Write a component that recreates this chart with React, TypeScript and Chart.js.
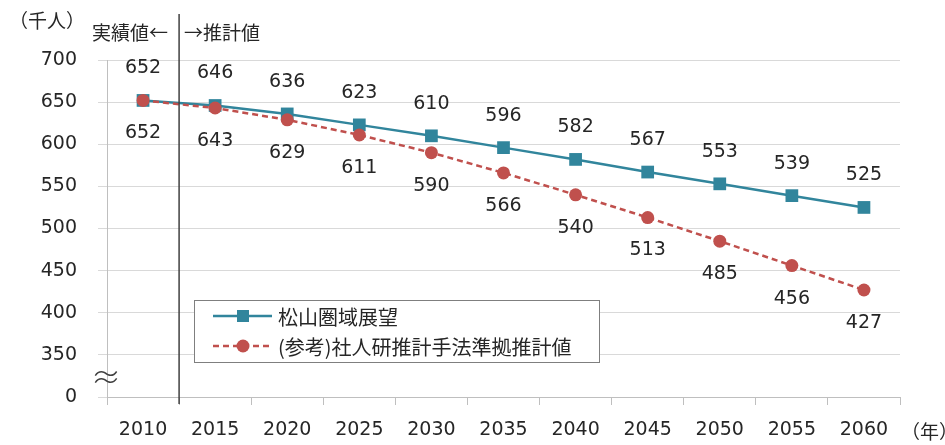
import React, { useEffect, useRef } from "react";
import { Chart, registerables } from "chart.js";

Chart.register(...registerables);

const years = ["2010", "2015", "2020", "2025", "2030", "2035", "2040", "2045", "2050", "2055", "2060"];
const outlookValues = [652, 646, 636, 623, 610, 596, 582, 567, 553, 539, 525];
const ipssValues = [652, 643, 629, 611, 590, 566, 540, 513, 485, 456, 427];
const seriesNames = ["松山圏域展望", "(参考)社人研推計手法準拠推計値"];
const yUnit = "（千人）";
const xUnit = "（年）";
const actualLabel = "実績値←";
const projLabel = "→推計値";
const breakMark = "≈";

const BLUE = "#31859C";
const RED = "#C0504D";
const NUM_FONT = "19px 'DejaVu Sans'";
const JP_FONT = "19px 'Noto Sans CJK JP'";
const LEG_FONT = "20px 'Noto Sans CJK JP'";

const overlayPlugin = {
  id: "overlay",
  afterDatasetsDraw(chart: any) {
    const ctx = chart.ctx;
    const xs = chart.scales.x;
    const ys = chart.scales.y;
    // divider line
    const xd = (xs.getPixelForValue(0) + xs.getPixelForValue(1)) / 2;
    ctx.save();
    ctx.strokeStyle = "#404040";
    ctx.lineWidth = 1.5;
    ctx.beginPath();
    ctx.moveTo(xd, 14);
    ctx.lineTo(xd, ys.bottom + 7);
    ctx.stroke();

    // data labels
    ctx.font = NUM_FONT;
    ctx.fillStyle = "#262626";
    ctx.textAlign = "center";
    ctx.textBaseline = "middle";
    chart.data.datasets.forEach((ds: any, di: number) => {
      const meta = chart.getDatasetMeta(di);
      meta.data.forEach((pt: any, i: number) => {
        const above = ds.labelPos === "above";
        ctx.fillText(String(ds.data[i]), pt.x, pt.y + (above ? -32 : 33));
      });
    });

    // texts
    ctx.font = JP_FONT;
    ctx.fillStyle = "#262626";
    ctx.textAlign = "left";
    ctx.fillText(yUnit, 9, 21);
    ctx.fillText(actualLabel, 92, 33);
    ctx.fillText(projLabel, 184, 33);
    ctx.fillText(xUnit, 901, 432);

    ctx.font = "300 30px 'Noto Sans CJK JP'";
    ctx.fillStyle = "#404040";
    ctx.textAlign = "center";
    ctx.fillText(breakMark, xs.left - 1, (ys.getPixelForValue(350) + ys.bottom) / 2 + 1);

    // legend
    const lx = 194, ly = 300, lw = 405, lh = 62;
    ctx.fillStyle = "#ffffff";
    ctx.fillRect(lx, ly, lw, lh);
    ctx.strokeStyle = "#7f7f7f";
    ctx.lineWidth = 1;
    ctx.strokeRect(lx + 0.5, ly + 0.5, lw, lh);
    const rows = [
      { y: 316, color: BLUE, dash: [] as number[], marker: "rect", name: seriesNames[0] },
      { y: 346, color: RED, dash: [6, 4], marker: "circle", name: seriesNames[1] },
    ];
    rows.forEach((r) => {
      ctx.strokeStyle = r.color;
      ctx.lineWidth = 2.5;
      ctx.setLineDash(r.dash);
      ctx.beginPath();
      ctx.moveTo(213, r.y);
      ctx.lineTo(272, r.y);
      ctx.stroke();
      ctx.setLineDash([]);
      ctx.fillStyle = r.color;
      if (r.marker === "rect") {
        ctx.fillRect(243 - 6, r.y - 6, 12, 12);
      } else {
        ctx.beginPath();
        ctx.arc(243, r.y, 6.5, 0, Math.PI * 2);
        ctx.fill();
      }
      ctx.fillStyle = "#262626";
      ctx.font = LEG_FONT;
      ctx.textAlign = "left";
      ctx.textBaseline = "middle";
      ctx.fillText(r.name, 278, r.y + 1);
    });
    ctx.restore();
  },
};

export default function App() {
  const ref = useRef<HTMLCanvasElement>(null);
  useEffect(() => {
    document.body.style.margin = "0";
    const chart = new Chart(ref.current!, {
      type: "line",
      data: {
        labels: years,
        datasets: [
          {
            label: seriesNames[0],
            data: outlookValues,
            borderColor: BLUE,
            backgroundColor: BLUE,
            borderWidth: 2.5,
            pointStyle: "rect",
            pointRadius: 9,
            pointBorderWidth: 0,
            order: 1,
            labelPos: "above",
          } as any,
          {
            label: seriesNames[1],
            data: ipssValues,
            borderColor: RED,
            backgroundColor: RED,
            borderWidth: 2.5,
            borderDash: [6, 4],
            pointStyle: "circle",
            pointRadius: 6.5,
            pointBorderWidth: 0,
            order: 0,
            labelPos: "below",
          } as any,
        ],
      },
      options: {
        animation: false,
        responsive: false,
        layout: { padding: { top: 60, right: 45, left: 0, bottom: 0 } },
        plugins: { legend: { display: false }, tooltip: { enabled: false } },
        scales: {
          x: {
            type: "category",
            offset: true,
            grid: { display: true, drawOnChartArea: false, offset: true, tickLength: 8, color: "#bfbfbf" },
            border: { display: true, color: "#bfbfbf" },
            ticks: { font: { family: "DejaVu Sans", size: 19 }, color: "#262626", padding: 14 },
            afterFit: (s: any) => { s.height = 48; },
          },
          y: {
            min: 300,
            max: 700,
            ticks: {
              stepSize: 50,
              font: { family: "DejaVu Sans", size: 19 },
              color: "#262626",
              padding: 21,
              callback: (v: any) => (v === 300 ? "0" : String(v)),
            },
            grid: { color: "#d9d9d9", tickLength: 9 },
            border: { display: true, color: "#bfbfbf" },
            afterFit: (s: any) => { s.width = 107; },
          },
        },
      },
      plugins: [overlayPlugin],
    });
    return () => chart.destroy();
  }, []);
  return (
    <div style={{ width: 945, height: 445 }}>
      <canvas ref={ref} width={945} height={445} style={{ display: "block" }} />
    </div>
  );
}
